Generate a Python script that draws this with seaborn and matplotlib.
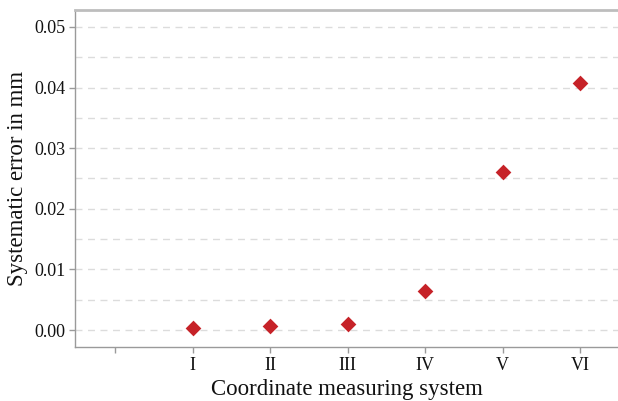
import numpy as np
import pandas as pd
import matplotlib
matplotlib.use("Agg")
import matplotlib.pyplot as plt
import seaborn as sns

# data
systems = ["", "I", "II", "III", "IV", "V", "VI"]
measured = ["I", "II", "III", "IV", "V", "VI"]
errors = [0.0004, 0.0007, 0.0010, 0.0065, 0.0260, 0.0407]

sns.set_theme(style="white")
plt.rcParams["font.family"] = ["Liberation Serif", "DejaVu Serif"]

df = pd.DataFrame({"system": measured, "error": errors})

fig = plt.figure(figsize=(6.18, 4.01), dpi=100)
ax = fig.add_axes([75 / 618, 1 - 347 / 401, 543 / 618, 337 / 401])

sns.stripplot(data=df, x="system", y="error", order=systems, jitter=False,
              marker="D", size=8, color="#c62228", linewidth=0, ax=ax, zorder=3)

ax.set_xlim(-0.52, 6.49)
ax.set_ylim(-0.0028, 0.0528)
ax.set_yticks([0.0, 0.01, 0.02, 0.03, 0.04, 0.05])
ax.set_yticklabels(["0.00", "0.01", "0.02", "0.03", "0.04", "0.05"])
for y in np.arange(0, 0.0501, 0.005):
    ax.axhline(y, color="#dcdcdc", lw=1, ls=(0, (5, 4)), zorder=1)

for side in ["left", "bottom"]:
    ax.spines[side].set_color("#9a9a9a")
    ax.spines[side].set_linewidth(1)
ax.spines["top"].set_color("#bdbdbd")
ax.spines["top"].set_linewidth(2)
ax.spines["right"].set_visible(False)

ax.tick_params(axis="both", bottom=True, left=True, colors="#9a9a9a", length=4,
               width=1, labelsize=13, labelcolor="#111111", pad=3)
ax.set_xlabel("Coordinate measuring system", fontsize=16.5, color="#111111", labelpad=4)
ax.set_ylabel("Systematic error in mm", fontsize=16.5, color="#111111", labelpad=4)

fig.savefig("out.png", dpi=100)
